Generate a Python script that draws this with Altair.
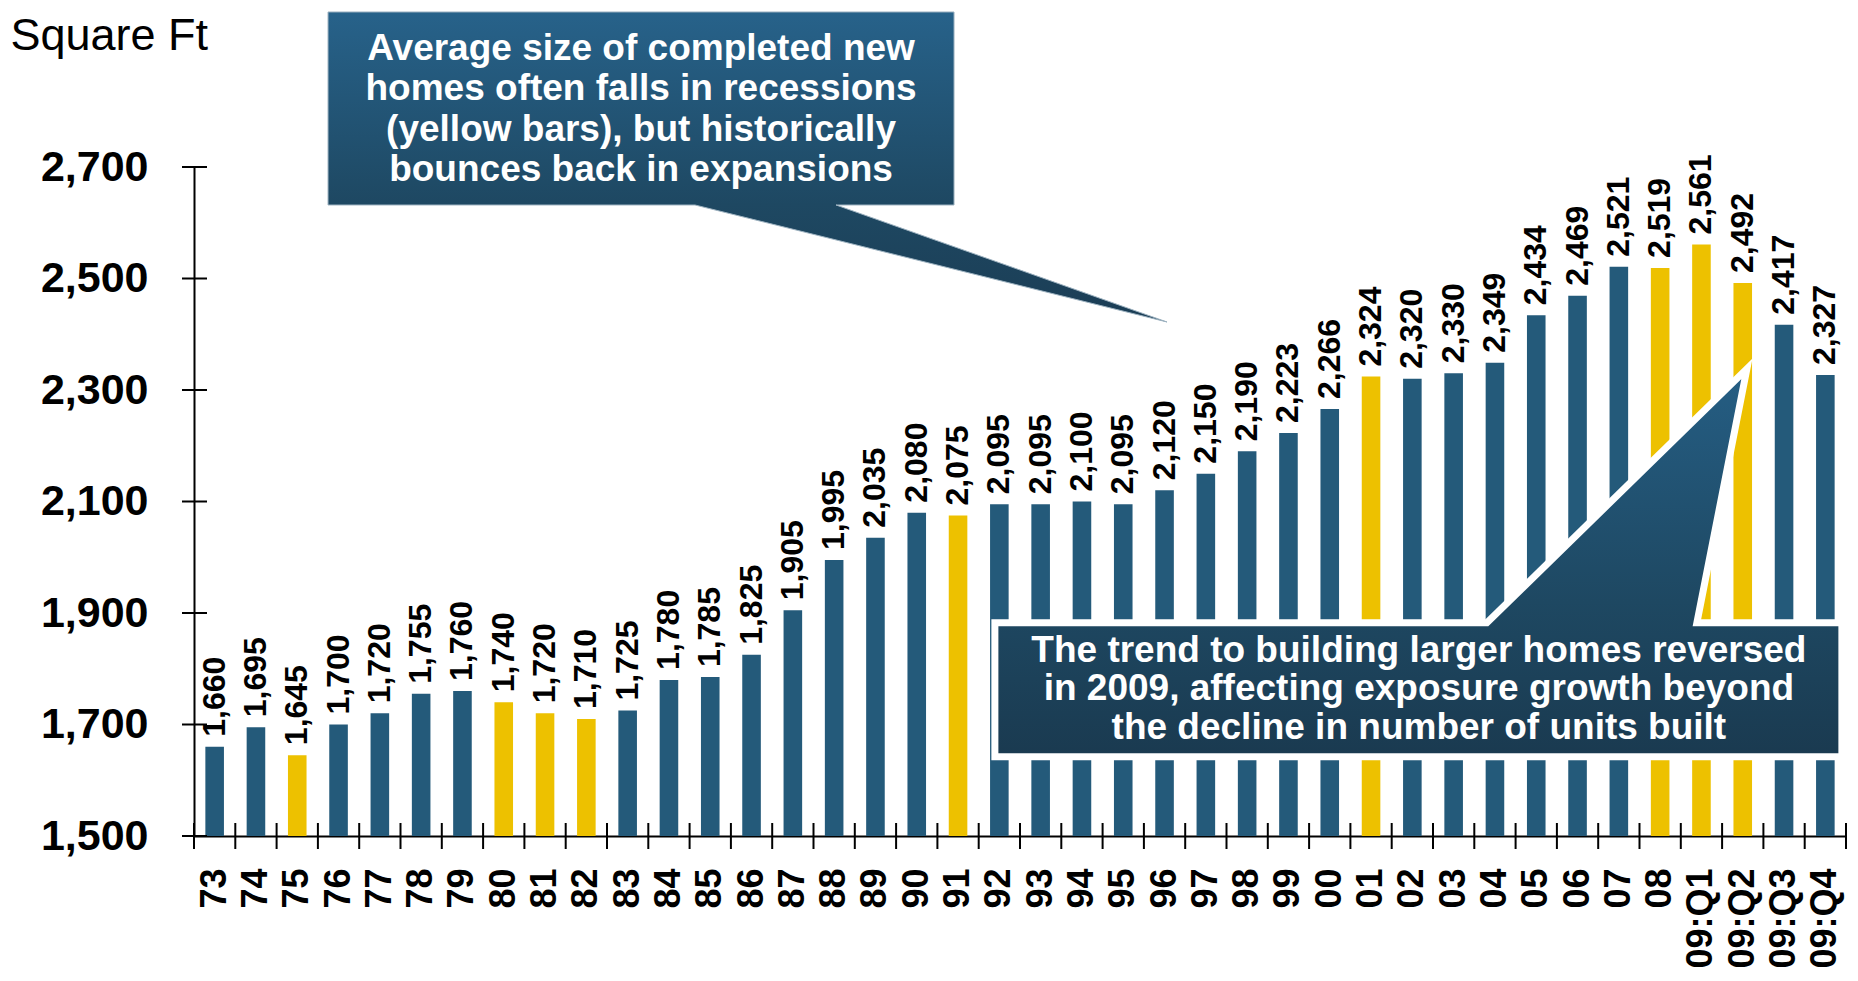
import altair as alt
import pandas as pd

# ---------------- data ----------------
categories = ["73", "74", "75", "76", "77", "78", "79", "80", "81", "82",
              "83", "84", "85", "86", "87", "88", "89", "90", "91", "92",
              "93", "94", "95", "96", "97", "98", "99", "00", "01", "02",
              "03", "04", "05", "06", "07", "08", "09:Q1", "09:Q2", "09:Q3", "09:Q4"]
values = [1660, 1695, 1645, 1700, 1720, 1755, 1760, 1740, 1720, 1710,
          1725, 1780, 1785, 1825, 1905, 1995, 2035, 2080, 2075, 2095,
          2095, 2100, 2095, 2120, 2150, 2190, 2223, 2266, 2324, 2320,
          2330, 2349, 2434, 2469, 2521, 2519, 2561, 2492, 2417, 2327]
recession_periods = ["75", "80", "81", "82", "91", "01", "08", "09:Q1", "09:Q2"]
y_ticks = [1500, 1700, 1900, 2100, 2300, 2500, 2700]

note_top = ["Average size of completed new",
            "homes often falls in recessions",
            "(yellow bars), but historically",
            "bounces back in expansions"]
note_bottom = ["The trend to building larger homes reversed",
               "in 2009, affecting exposure growth beyond",
               "the decline in number of units built"]

# ---------------- style ----------------
BLUE = "#245A7A"
YELLOW = "#EDC100"
FONT = "Liberation Sans, Arial, Helvetica, sans-serif"
W, H = 1652, 669

df = pd.DataFrame({
    "cat": categories,
    "value": values,
    "phase": ["Recession" if c in recession_periods else "Expansion" for c in categories],
})

x_scale = alt.Scale(domain=categories, paddingInner=0, paddingOuter=0)
y_scale = alt.Scale(domain=[1500, 2700], nice=False, zero=False)

x_axis = alt.Axis(title=None, labelAngle=-90, labelFontSize=36,
                  labelFontWeight="bold", labelFont=FONT, labelColor="black",
                  labelPadding=32, labelOverlap=False, ticks=False, tickSize=0,
                  domainColor="black", domainWidth=2, grid=False)
y_axis = alt.Axis(values=y_ticks, format=",.0f", ticks=False, tickSize=0,
                  labelPadding=46, labelFontSize=43, labelFontWeight="bold",
                  labelFont=FONT, labelColor="black", grid=False,
                  domainColor="black", domainWidth=2,
                  title="Square Ft", titleAngle=0, titleX=-184, titleY=-118,
                  titleAlign="left", titleBaseline="alphabetic",
                  titleFontSize=45, titleFontWeight="normal", titleFont=FONT,
                  titleColor="black")


def xs(**kw):
    return alt.X("cat:N", scale=x_scale, sort=None, axis=x_axis, **kw)


def ys():
    return alt.Y("value:Q", scale=y_scale, axis=y_axis)


bars = alt.Chart(df).mark_bar(width=alt.RelativeBandSize(0.45)).encode(
    x=xs(),
    y=ys(),
    y2=alt.datum(1500),
    color=alt.Color("phase:N",
                    scale=alt.Scale(domain=["Expansion", "Recession"], range=[BLUE, YELLOW]),
                    legend=None),
)

value_labels = alt.Chart(df).mark_text(
    angle=270, align="left", baseline="middle", dx=10,
    fontSize=32, fontWeight="bold", font=FONT, color="black",
).encode(x=xs(), y=ys(), text=alt.Text("value:Q", format=","))

ytick_df = pd.DataFrame({"value": y_ticks})
ytick_rules = alt.Chart(ytick_df).mark_rule(color="black", strokeWidth=2).encode(
    y=ys(), x=alt.value(-12), x2=alt.value(13))

xtick_rules = alt.Chart(df).mark_rule(color="black", strokeWidth=2).encode(
    x=xs(bandPosition=0), y=alt.value(H - 13), y2=alt.value(H + 13))
xtick_end = alt.Chart(df).transform_filter(
    alt.datum.cat == categories[-1]
).mark_rule(color="black", strokeWidth=2).encode(
    x=xs(bandPosition=1), y=alt.value(H - 13), y2=alt.value(H + 13))

# ---------------- callouts (anchored at their pointer tips) ----------------
top_df = pd.DataFrame({"cat": ["96"], "value": [2422], "note": ["\n".join(note_top)]})
bottom_df = pd.DataFrame({"cat": ["09:Q2"], "value": [2338], "note": ["\n".join(note_bottom)]})

TOP_PATH = ("M -839 -310 L -213 -310 L -213 -117 L -331 -117 L 0 0 "
            "L -472 -117 L -839 -117 Z")
BOTTOM_PATH = ("M -752 254 L -260 254 L 0 0 L -50 254 L 95 254 "
               "L 95 388 L -752 388 Z")

top_grad = alt.Gradient(gradient="linear",
                        stops=[alt.GradientStop(color="#27628A", offset=0),
                               alt.GradientStop(color="#1E4862", offset=0.62),
                               alt.GradientStop(color="#1B3D55", offset=1)],
                        x1=0, x2=0, y1=0, y2=1)
bottom_grad = alt.Gradient(gradient="linear",
                           stops=[alt.GradientStop(color="#255E84", offset=0),
                                  alt.GradientStop(color="#1E4862", offset=0.6),
                                  alt.GradientStop(color="#1A3A50", offset=1)],
                           x1=0, x2=0, y1=0, y2=1)

top_shape = alt.Chart(top_df).mark_point(
    shape=TOP_PATH, size=4, filled=True, opacity=1, fill=top_grad,
    stroke="#9DB2C0", strokeWidth=1,
).encode(x=xs(bandPosition=0.56), y=ys())

top_text = alt.Chart(top_df).mark_text(
    dx=-526, dy=-273, align="center", baseline="middle", lineBreak="\n",
    lineHeight=40.5, fontSize=37, fontWeight="bold", font=FONT, color="white",
).encode(x=xs(bandPosition=0.56), y=ys(), text="note:N")

bottom_shape = alt.Chart(bottom_df).mark_point(
    shape=BOTTOM_PATH, size=4, filled=True, opacity=1, fill=bottom_grad,
    stroke="white", strokeWidth=7, strokeJoin="miter",
).encode(x=xs(bandPosition=0.6), y=ys())

bottom_text = alt.Chart(bottom_df).mark_text(
    dx=-328, dy=282, align="center", baseline="middle", lineBreak="\n",
    lineHeight=38.5, fontSize=37, fontWeight="bold", font=FONT, color="white",
).encode(x=xs(bandPosition=0.6), y=ys(), text="note:N")

chart = alt.layer(
    bars, value_labels, ytick_rules, xtick_rules, xtick_end,
    top_shape, top_text, bottom_shape, bottom_text,
).properties(
    width=W, height=H,
    padding={"left": 186, "top": 159, "right": 4, "bottom": 136},
    autosize=alt.AutoSizeParams(type="none"),
    background="white",
).configure_view(stroke=None)

chart.save("out.html", embed_options={"renderer": "svg", "actions": False})
